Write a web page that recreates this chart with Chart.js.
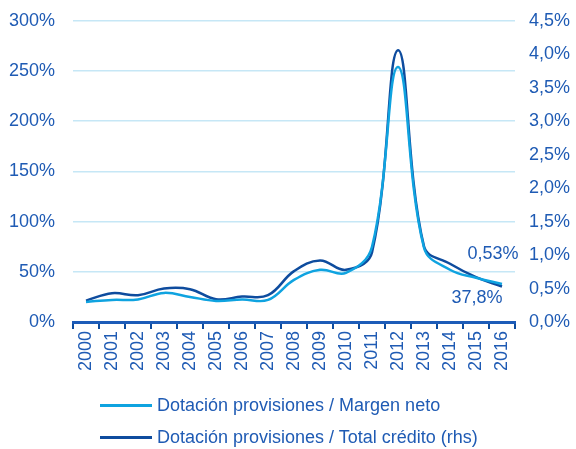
<!DOCTYPE html>
<html>
<head>
<meta charset="utf-8">
<script src="https://cdn.jsdelivr.net/npm/chart.js@4.4.1/dist/chart.umd.min.js"></script>
<style>
  html, body { margin: 0; padding: 0; background: #fff; overflow: hidden; }
  #wrap { position: relative; width: 576px; height: 449px; overflow: hidden; }
  #myChart { position: absolute; left: 0; top: -8px; }
  #legend { position: absolute; left: 100px; top: 389px; font-family: "Liberation Sans", Arial, sans-serif; font-size: 18px; color: #1F5BB4; }
  .item { height: 32px; line-height: 26px; display: flex; align-items: center; }
  .swatch { width: 52px; height: 3px; margin-right: 5px; }
</style>
</head>
<body>
<div id="wrap">
  <canvas id="myChart" width="576" height="457"></canvas>
  <div id="legend"></div>
</div>
<script>
const years = ['2000','2001','2002','2003','2004','2005','2006','2007','2008','2009','2010','2011','2012','2013','2014','2015','2016'];
// % sobre margen neto (eje izq.)
const margenNeto = [20, 22, 22.5, 29, 25, 21, 22.5, 22, 42, 52, 49, 75, 254, 74, 52, 44, 37.8];
// % sobre total crédito (eje dcho.)
const totalCredito = [0.32, 0.43, 0.40, 0.50, 0.49, 0.34, 0.38, 0.40, 0.76, 0.92, 0.78, 1.04, 4.06, 1.13, 0.87, 0.67, 0.53];
const leftTicks = [0, 50, 100, 150, 200, 250, 300];
const rightTicks = [0, 0.5, 1, 1.5, 2, 2.5, 3, 3.5, 4, 4.5];
const seriesNames = ['Dotación provisiones / Margen neto', 'Dotación provisiones / Total crédito (rhs)'];
const colLight = '#0FA3E0';
const colDark = '#0E4C9E';
const txt = '#1F5BB4';
const font = { family: '"Liberation Sans", Arial, sans-serif', size: 18 };

const fmt = (v, d) => v.toFixed(d).replace('.', ',') + '%';

const endLabels = {
  id: 'endLabels',
  afterDatasetsDraw(chart) {
    const ctx = chart.ctx;
    const x = chart.scales.x;
    const last = years.length - 1;
    const px = x.getPixelForValue(last);
    const yR = chart.scales.y2.getPixelForValue(totalCredito[last]);
    const yL = chart.scales.y.getPixelForValue(margenNeto[last]);
    ctx.save();
    ctx.font = '18px ' + font.family;
    ctx.fillStyle = txt;
    ctx.textAlign = 'center';
    ctx.textBaseline = 'middle';
    ctx.fillText(fmt(totalCredito[last], 2), px - 9, yR - 32);
    ctx.fillText(fmt(margenNeto[last], 1), px - 25, yL + 14);
    ctx.restore();
  }
};

const ctx = document.getElementById('myChart').getContext('2d');
const myChart = new Chart(ctx, {
  type: 'line',
  data: {
    labels: years,
    datasets: [
      {
        label: seriesNames[0],
        data: margenNeto,
        borderColor: colLight,
        borderWidth: 2.5,
        pointRadius: 0,
        tension: 0.4,
        yAxisID: 'y'
      },
      {
        label: seriesNames[1],
        data: totalCredito,
        borderColor: colDark,
        borderWidth: 2.5,
        pointRadius: 0,
        tension: 0.4,
        yAxisID: 'y2'
      }
    ]
  },
  options: {
    responsive: false,
    animation: false,
    layout: { padding: { top: 11, bottom: 76, left: 0, right: 0 } },
    plugins: { legend: { display: false }, tooltip: { enabled: false } },
    scales: {
      x: {
        offset: true,
        grid: { offset: true, drawOnChartArea: false, drawTicks: true, tickLength: 7, color: colDark, lineWidth: 2 },
        border: { display: true, color: '#1D5CB8', width: 3 },
        ticks: { color: txt, font: font, minRotation: 90, maxRotation: 90, padding: 2 },
        afterFit(s) { s.height = 51; }
      },
      y: {
        position: 'left',
        min: 0, max: 300,
        afterBuildTicks(s) { s.ticks = leftTicks.map(v => ({ value: v })); },
        grid: { color: '#C6E7F6', lineWidth: 1.5, drawTicks: false },
        border: { display: false },
        ticks: { color: txt, font: font, padding: 18, callback: v => v + '%' },
        afterFit(s) { s.width = 73; }
      },
      y2: {
        position: 'right',
        min: 0, max: 4.5,
        afterBuildTicks(s) { s.ticks = rightTicks.map(v => ({ value: v })); },
        grid: { display: false, drawTicks: false },
        border: { display: false },
        ticks: { color: txt, font: font, padding: 14, callback: v => fmt(v, 1) },
        afterFit(s) { s.width = 61; }
      }
    }
  },
  plugins: [endLabels]
});

const legend = document.getElementById('legend');
[colLight, colDark].forEach((c, i) => {
  const row = document.createElement('div');
  row.className = 'item';
  row.innerHTML = '<span class="swatch" style="background:' + c + '"></span><span>' + seriesNames[i] + '</span>';
  legend.appendChild(row);
});
</script>
</body>
</html>
